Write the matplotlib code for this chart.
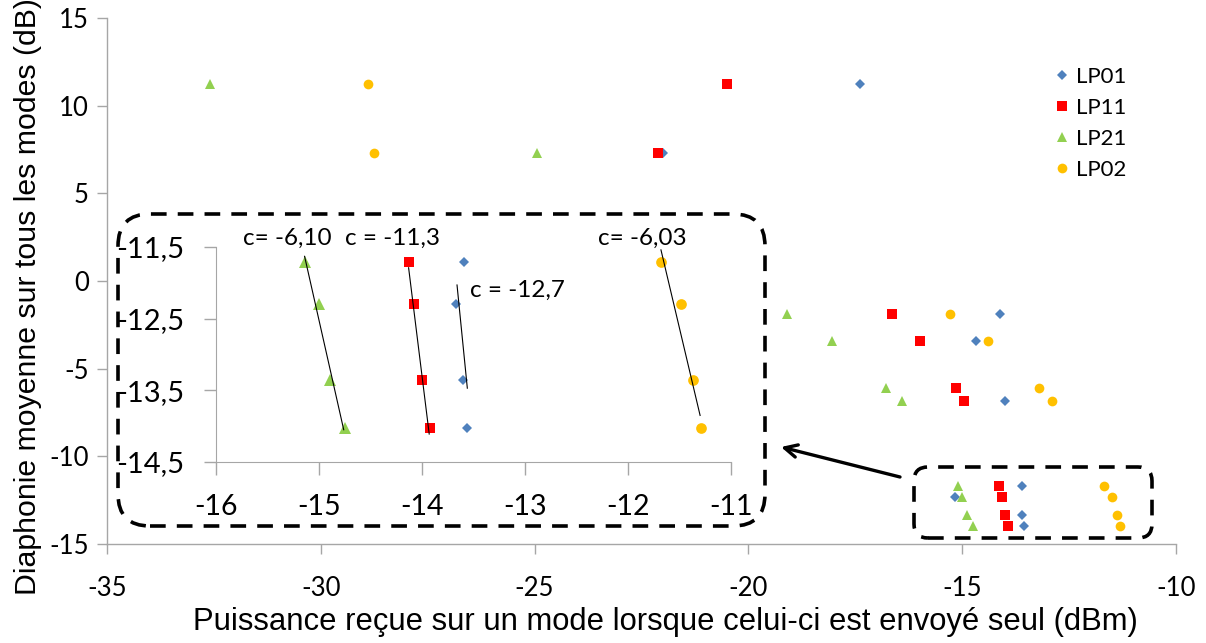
import matplotlib
matplotlib.use("Agg")
import matplotlib.pyplot as plt
from matplotlib.patches import FancyBboxPatch
import numpy as np

# ---------------- data (main chart) ----------------
series_names = ["LP01", "LP11", "LP21", "LP02"]
colors = ["#4F81BD", "#FF0000", "#92D050", "#FFC000"]
markers = ["D", "s", "^", "o"]
msizes = [4.8, 7.0, 7.4, 7.0]

lp01_x = [-17.4, -22.0, -14.12, -14.68, -14.01, -13.59, -15.17, -13.60, -13.55]
lp01_y = [11.24, 7.30, -1.90, -3.42, -6.83, -11.68, -12.30, -13.35, -14.00]
lp11_x = [-20.5, -22.11, -16.64, -15.99, -15.15, -14.95, -14.14, -14.08, -14.00, -13.93]
lp11_y = [11.24, 7.30, -1.90, -3.42, -6.08, -6.83, -11.68, -12.30, -13.35, -14.00]
lp21_x = [-32.6, -24.94, -19.10, -18.05, -16.79, -16.40, -15.10, -15.00, -14.89, -14.75]
lp21_y = [11.24, 7.30, -1.90, -3.42, -6.08, -6.83, -11.68, -12.30, -13.35, -14.00]
lp02_x = [-28.9, -28.76, -15.29, -14.39, -13.20, -12.91, -11.68, -11.50, -11.38, -11.31]
lp02_y = [11.24, 7.30, -1.90, -3.42, -6.08, -6.83, -11.68, -12.30, -13.35, -14.00]

main_xticks = [-35, -30, -25, -20, -15, -10]
main_yticks = [15, 10, 5, 0, -5, -10, -15]

# ---------------- data (inset zoom) ----------------
inset_y = [-11.71, -12.30, -13.36, -14.02]
in_lp01_x = [-13.59, -13.67, -13.60, -13.56]
in_lp11_x = [-14.13, -14.08, -14.00, -13.92]
in_lp21_x = [-15.14, -15.00, -14.89, -14.75]
in_lp02_x = [-11.68, -11.49, -11.37, -11.29]

# trend lines (start, end)
trend_lp21 = [(-15.14, -11.63), (-14.76, -14.05)]
trend_lp11 = [(-14.13, -11.79), (-13.93, -14.11)]
trend_lp01 = [(-13.66, -12.03), (-13.56, -13.47)]
trend_lp02 = [(-11.68, -11.54), (-11.30, -13.85)]

trend_labels = ["c= -6,10", "c = -11,3", "c = -12,7", "c= -6,03"]
trend_label_pos = [(-15.74, -11.375), (-14.75, -11.375), (-13.53, -12.11), (-12.29, -11.375)]

inset_xticks = [-16, -15, -14, -13, -12, -11]
inset_yticks = [-11.5, -12.5, -13.5, -14.5]

# ---------------- figure ----------------
W, H, DPI = 1206, 643, 100
fig = plt.figure(figsize=(W / DPI, H / DPI), dpi=DPI)

TICKFONT = "Lato"
LABELFONT = "Liberation Sans"
spine_col = "#A6A6A6"

ax = fig.add_axes([107 / W, 1 - 544 / H, (1176 - 107) / W, (544 - 18) / H])
ax.set_xlim(-35, -10)
ax.set_ylim(-15, 15)
ax.set_xticks(main_xticks)
ax.set_yticks(main_yticks)
ax.set_xticklabels([str(v) for v in main_xticks], fontfamily=TICKFONT, fontsize=18.5)
ax.set_yticklabels([str(v) for v in main_yticks], fontfamily=TICKFONT, fontsize=18.5)
for s in ["top", "right"]:
    ax.spines[s].set_visible(False)
for s in ["left", "bottom"]:
    ax.spines[s].set_color(spine_col)
    ax.spines[s].set_linewidth(1.0)
ax.tick_params(axis="both", direction="out", length=7, width=1.0, color=spine_col)
ax.tick_params(axis="x", pad=16)
ax.tick_params(axis="y", pad=6)

xs = [lp01_x, lp11_x, lp21_x, lp02_x]
ys = [lp01_y, lp11_y, lp21_y, lp02_y]
handles = []
for x, y, c, m, ms, name in zip(xs, ys, colors, markers, msizes, series_names):
    h, = ax.plot(x, y, linestyle="none", marker=m, markersize=ms, color=c,
                 markeredgewidth=0, label=name, zorder=3)
    handles.append(h)

ax.set_xlabel("Puissance reçue sur un mode lorsque celui-ci est envoyé seul (dBm)",
              fontfamily=LABELFONT, fontsize=22.3)
ax.xaxis.set_label_coords((665 - 107) / 1069, -(622 - 544) / 526)
ax.xaxis.label.set_va("center")
ax.set_ylabel("Diaphonie moyenne sur tous les modes (dB)",
              fontfamily=LABELFONT, fontsize=21.8)
ax.yaxis.set_label_coords(-(107 - 28) / 1069, (544 - 297) / 526)
ax.yaxis.label.set_va("center")

leg = ax.legend(handles=handles, loc="upper left", bbox_to_anchor=(1044 / W, 1 - 58 / H),
                bbox_transform=fig.transFigure, frameon=False,
                prop={"family": TICKFONT, "size": 16}, handlelength=0.8,
                handletextpad=0.25, labelspacing=0.5, borderaxespad=0)

# ---------------- inset ----------------
iax = fig.add_axes([216 / W, 1 - 462 / H, (731 - 216) / W, (462 - 247) / H])
iax.set_facecolor("none")
iax.set_xlim(-16, -11)
iax.set_ylim(-14.5, -11.5)
iax.set_xticks(inset_xticks)
iax.set_yticks(inset_yticks)
iax.set_xticklabels([str(v) for v in inset_xticks], fontfamily=TICKFONT, fontsize=20.5)
iax.set_yticklabels([("%g" % v).replace(".", ",") for v in inset_yticks],
                    fontfamily=TICKFONT, fontsize=21)
for s in ["top", "right"]:
    iax.spines[s].set_visible(False)
for s in ["left", "bottom"]:
    iax.spines[s].set_color(spine_col)
iax.tick_params(axis="both", direction="out", length=9, width=1.0, color=spine_col)
iax.tick_params(axis="x", pad=14)
iax.tick_params(axis="y", pad=14)

ixs = [in_lp01_x, in_lp11_x, in_lp21_x, in_lp02_x]
for x, c, m, ms in zip(ixs, colors, markers, msizes):
    iax.plot(x, inset_y, linestyle="none", marker=m, markersize=ms * 1.1, color=c,
             markeredgewidth=0, zorder=3)

for tr in [trend_lp21, trend_lp11, trend_lp01, trend_lp02]:
    iax.plot([tr[0][0], tr[1][0]], [tr[0][1], tr[1][1]], color="black", lw=0.8, zorder=4,
             clip_on=False)

for lab, (tx, ty) in zip(trend_labels, trend_label_pos):
    iax.text(tx, ty, lab, fontfamily=TICKFONT, fontsize=17.5, ha="left", va="center",
             clip_on=False)

# ---------------- dashed rounded boxes & arrow ----------------
def px_box(x0, y0, x1, y1, r, lw_pt):
    dash = 11.3 / lw_pt
    gap = 8.0 / lw_pt
    p = FancyBboxPatch((x0 / DPI, (H - y1) / DPI), (x1 - x0) / DPI, (y1 - y0) / DPI,
                       boxstyle="round,pad=0,rounding_size=%f" % (r / DPI),
                       transform=fig.dpi_scale_trans, fill=False, edgecolor="black",
                       linewidth=lw_pt, linestyle=(0, (dash, gap)), zorder=10,
                       clip_on=False)
    fig.patches.append(p)

px_box(118, 214, 765, 526, 32, 2.6)
px_box(914, 467, 1152, 538, 14, 2.6)

arr_ax = fig.add_axes([0, 0, 1, 1], facecolor="none")
arr_ax.set_axis_off()
arr_ax.set_xlim(0, W)
arr_ax.set_ylim(H, 0)
arr_ax.annotate("", xy=(781, 447), xytext=(900, 477),
                arrowprops=dict(arrowstyle="->,head_length=0.9,head_width=0.45",
                                color="black", lw=2.4, shrinkA=0, shrinkB=0))

fig.savefig("out.png", dpi=DPI)
